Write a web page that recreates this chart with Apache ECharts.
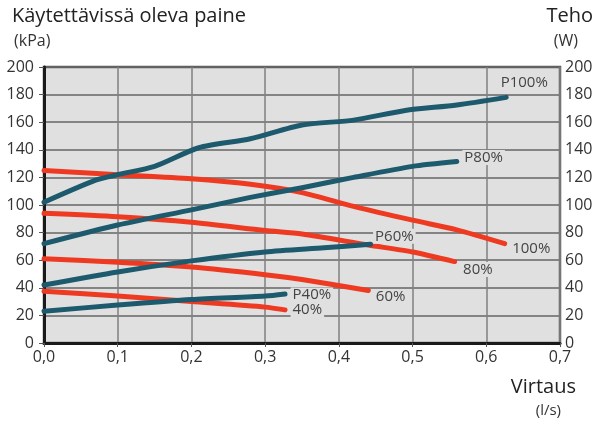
<!DOCTYPE html>
<html>
<head>
<meta charset="utf-8">
<script src="https://cdn.jsdelivr.net/npm/echarts@6/dist/echarts.min.js"></script>
<style>
  html, body { margin: 0; padding: 0; background: #ffffff; }
  #chart { width: 596px; height: 421px; }
</style>
</head>
<body>
<div id="chart"></div>
<script>
// Flow axis (l/s) and shared tick values
const flowTicks = [0, 0.1, 0.2, 0.3, 0.4, 0.5, 0.6, 0.7];
const valueTicks = [0, 20, 40, 60, 80, 100, 120, 140, 160, 180, 200];

// Available pressure (kPa) per pump speed
const p100Flow = [0, 0.1, 0.2, 0.28, 0.35, 0.42, 0.5, 0.56, 0.625];
const p100Kpa  = [125, 122, 119, 115, 109, 99, 89, 82, 72];
const p80Flow  = [0, 0.1, 0.2, 0.3, 0.35, 0.44, 0.5, 0.557];
const p80Kpa   = [94, 91.5, 87.5, 81.5, 79, 71, 66, 59];
const p60Flow  = [0, 0.1, 0.2, 0.3, 0.35, 0.44];
const p60Kpa   = [61, 58.5, 55, 49.5, 46, 38];
const p40Flow  = [0, 0.1, 0.2, 0.3, 0.327];
const p40Kpa   = [37.5, 34, 30, 26, 24];

// Power consumption (W) per pump speed
const w100Flow = [0, 0.07, 0.1, 0.15, 0.21, 0.28, 0.35, 0.42, 0.49, 0.56, 0.627];
const w100W    = [102, 118, 122, 128, 141.5, 148, 158, 161.5, 168.5, 172.5, 178];
const w80Flow  = [0, 0.1, 0.2, 0.28, 0.35, 0.42, 0.5, 0.56];
const w80W     = [72, 85.5, 96.5, 105.5, 112.5, 120, 128, 131.5];
const w60Flow  = [0, 0.1, 0.2, 0.3, 0.38, 0.443];
const w60W     = [42, 51.5, 59.5, 66, 69, 71.5];
const w40Flow  = [0, 0.1, 0.2, 0.3, 0.327];
const w40W     = [23, 27.5, 31.5, 34, 35.5];

const RED = '#ef3a22';
const TEAL = '#1d5a6d';
const FONT = '"Open Sans", "Noto Sans", sans-serif';

function pairs(xs, ys) { return xs.map((x, i) => [x, ys[i]]); }

// One curve; its name is written just past the last point
function curve(name, xs, ys, color, yAxisIndex, offset) {
  const data = pairs(xs, ys);
  const last = data.length - 1;
  data[last] = {
    value: data[last],
    label: {
      show: true,
      formatter: name,
      position: 'right',
      distance: 4,
      offset: offset,
      fontFamily: FONT,
      fontSize: 15,
      color: '#444',
      backgroundColor: '#e0e0e0',
      padding: [0, 2, 0, 2]
    }
  };
  return {
    name: name,
    type: 'line',
    yAxisIndex: yAxisIndex,
    data: data,
    symbol: 'circle',
    symbolSize: 1,
    showSymbol: true,
    showAllSymbol: true,
    itemStyle: { color: color },
    smooth: 0.25,
    lineStyle: { color: color, width: 5, cap: 'round', join: 'round' },
    label: { show: false },
    z: color === TEAL ? 4 : 3,
    animation: false
  };
}

const chart = echarts.init(document.getElementById('chart'), null, { renderer: 'canvas' });

const axisLabelStyle = { fontFamily: FONT, fontSize: 16, color: '#333' };

chart.setOption({
  animation: false,
  grid: {
    left: 44, right: 36, top: 67, bottom: 78,
    show: true,
    backgroundColor: '#e0e0e0',
    borderColor: '#5a5a5a',
    borderWidth: 2.5
  },
  xAxis: {
    type: 'value',
    min: 0, max: 0.7, interval: 0.1,
    axisLine: { show: true, lineStyle: { color: '#1a1a1a', width: 3 } },
    axisTick: { show: true, length: 4, lineStyle: { color: '#555', width: 1 } },
    axisLabel: Object.assign({}, axisLabelStyle, {
      margin: 6,
      formatter: v => v.toFixed(1).replace('.', ',')
    }),
    splitLine: { show: true, lineStyle: { color: '#808080', width: 1.5 } }
  },
  yAxis: [
    {
      type: 'value', position: 'left',
      min: 0, max: 200, interval: 20,
      axisLine: { show: true, lineStyle: { color: '#1a1a1a', width: 3 } },
      axisTick: { show: true, length: 5, lineStyle: { color: '#555', width: 1 } },
      axisLabel: Object.assign({}, axisLabelStyle, { margin: 10 }),
      splitLine: { show: true, lineStyle: { color: '#666', width: 1.5 } }
    },
    {
      type: 'value', position: 'right',
      min: 0, max: 200, interval: 20,
      axisLine: { show: false },
      axisTick: { show: false },
      axisLabel: Object.assign({}, axisLabelStyle, { margin: 5 }),
      splitLine: { show: false }
    }
  ],
  graphic: [
    { type: 'text', left: 12, top: 6, style: { text: 'Käytettävissä oleva paine', font: '20px ' + FONT, fill: '#222' } },
    { type: 'text', left: 14, top: 33, style: { text: '(kPa)', font: '16px ' + FONT, fill: '#333' } },
    { type: 'text', right: 3, top: 6, style: { text: 'Teho', font: '20px ' + FONT, fill: '#222' } },
    { type: 'text', right: 18, top: 33, style: { text: '(W)', font: '16px ' + FONT, fill: '#333' } },
    { type: 'text', right: 20, top: 377, style: { text: 'Virtaus', font: '20px ' + FONT, fill: '#222' } },
    { type: 'text', right: 35, top: 403, style: { text: '(l/s)', font: '15px ' + FONT, fill: '#333' } }
  ],
  series: [
    curve('100%', p100Flow, p100Kpa, RED, 0, [1, 5]),
    curve('80%', p80Flow, p80Kpa, RED, 0, [2, 8]),
    curve('60%', p60Flow, p60Kpa, RED, 0, [1, 6]),
    curve('40%', p40Flow, p40Kpa, RED, 0, [1, 0]),
    curve('P100%', w100Flow, w100W, TEAL, 1, [-12, -15]),
    curve('P80%', w80Flow, w80W, TEAL, 1, [1, -4]),
    curve('P60%', w60Flow, w60W, TEAL, 1, [-2, -8]),
    curve('P40%', w40Flow, w40W, TEAL, 1, [1, 1])
  ]
});
</script>
</body>
</html>
